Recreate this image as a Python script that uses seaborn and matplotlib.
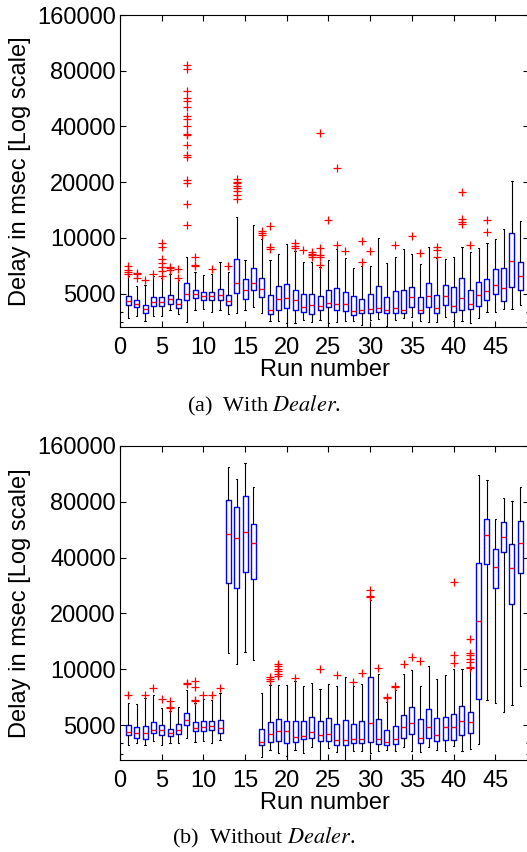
import matplotlib
matplotlib.use("Agg")
import matplotlib.pyplot as plt
import pandas as pd
import seaborn as sns
from matplotlib.ticker import FixedLocator, NullFormatter

# Run numbers on the x axis (same for both panels)
runs = list(range(1, 49))

# (a) With Dealer -- box statistics, delay in msec
a_q1 = [4350, 4240, 3920, 4290, 4290, 4400, 4200, 4605, 4740, 4605, 4605, 4605, 4350, 5020, 4660, 5230,
        4815, 3900, 4070, 4200, 4100, 3985, 3900, 4085, 4240, 4100, 4050, 3840, 3920, 3950, 3970, 3935,
        3935, 3935, 4250, 3935, 4240, 3935, 4330, 4000, 4085, 4120, 4310, 4620, 4980, 4550, 5410, 5230]
a_med = [4550, 4420, 4140, 4510, 4510, 4660, 4370, 5000, 5000, 4880, 4860, 4940, 4585, 5730, 5230, 5700,
         5320, 4085, 4700, 4740, 4600, 4220, 4350, 4310, 4435, 4400, 4400, 4015, 4085, 4140, 4200, 4070,
         4185, 4085, 4775, 4100, 4840, 4200, 4860, 4310, 4740, 4420, 4900, 5150, 5570, 5390, 7520, 6220]
a_q3 = [4840, 4640, 4350, 4815, 4775, 4920, 4660, 5680, 5230, 5080, 5100, 5300, 4920, 7710, 6000, 6900,
        6100, 4920, 5500, 5610, 5230, 4980, 5000, 4880, 5250, 5360, 5100, 4840, 4700, 4980, 5500, 4815,
        5170, 5230, 5450, 4815, 5700, 4920, 5590, 5410, 6070, 5250, 5780, 6000, 6810, 6900, 10590, 7370]
a_whi = [6250, 5520, 5590, 6200, 6070, 6400, 5900, 7840, 6540, 6300, 6400, 7370, 6570, 12900, 7600, 11700,
         9840, 7580, 8170, 9280, 8510, 7400, 7400, 6955, 7600, 8690, 7770, 6870, 7010, 7010, 10040, 7310,
         7840, 8690, 8140, 7220, 8980, 7770, 7710, 7840, 8950, 8410, 8840, 9440, 9840, 11150, 20380, 12350]
a_wlo = [3700, 3770, 3540, 3770, 3770, 4070, 3870, 3520, 4100, 4140, 3970, 4070, 3900, 3950, 4070, 4240,
         3920, 3535, 3540, 3480, 3480, 3580, 3505, 3620, 3450, 3505, 3535, 3540, 3365, 3595, 3650, 3340,
         3580, 3700, 3740, 3540, 3505, 3505, 3740, 3540, 3540, 3450, 3700, 3985, 3970, 4150, 4150, 4330]
a_fliers = {
    1: [7070, 6670, 6510, 6380], 2: [6460, 6380, 6100], 3: [5900], 4: [6400],
    5: [9360, 8980, 7680, 7310, 6955, 6590, 6250], 6: [6955, 6840, 6730], 7: [6780, 6070],
    8: [86000, 82000, 62500, 57000, 54700, 50800, 45800, 44000, 40000, 36500, 35800, 31600,
        27900, 27400, 20500, 19700, 15300, 11800],
    9: [7870, 7160, 7010], 11: [6810], 13: [7050],
    14: [20700, 20150, 19700, 19100, 18600, 18000, 17000, 16300],
    17: [10870, 10660, 10380], 18: [11560, 8980, 8760], 21: [9440, 9090, 8870], 22: [8620],
    23: [8440, 8200, 8035, 7900], 24: [36800, 8800, 8100, 7870, 7160], 25: [12500],
    26: [23900, 9170], 27: [8510], 29: [9560, 7400], 30: [8510], 33: [9170], 35: [10250],
    36: [8270], 38: [8910, 8620, 7930], 41: [17800, 12600, 12240, 11930], 42: [9200],
    44: [12550, 10770],
}

# (b) Without Dealer
b_q1 = [4400, 4270, 4200, 4510, 4400, 4350, 4450, 5020, 4640, 4620, 4680, 4510, 29070, 27320, 33450, 30780,
        3900, 4050, 4085, 4015, 4030, 4185, 4240, 4100, 4085, 3900, 3900, 3985, 3985, 4070, 3935, 3880,
        3935, 4240, 4490, 3985, 4270, 4085, 4153, 4170, 4435, 4510, 6870, 36950, 27300, 42900, 22400, 33000]
b_med = [4605, 4525, 4545, 4720, 4680, 4545, 4700, 5320, 4840, 4860, 4920, 4800, 53450, 50830, 55000, 47770,
         4030, 4470, 4640, 4620, 4330, 4370, 4560, 4420, 4450, 4140, 4140, 4200, 4200, 5125, 4200, 4070,
         4185, 4880, 5125, 4240, 4860, 4400, 4860, 4860, 5275, 5170, 18200, 53200, 35700, 51900, 35300, 48100]
b_q3 = [4980, 4880, 4940, 5210, 4980, 4775, 5080, 5800, 5170, 5275, 5230, 5300, 81800, 75260, 86000, 60500,
        4775, 5210, 5390, 5275, 5230, 5230, 5500, 5230, 5430, 5080, 5300, 5040, 5275, 9130, 5390, 4680,
        4940, 5700, 6240, 5360, 6100, 5450, 5543, 5750, 6300, 5900, 37250, 64300, 44300, 62000, 47500, 63000]
b_whi = [6540, 6460, 7010, 7220, 6145, 5950, 6240, 7770, 6540, 6930, 6810, 7450, 122800, 106200, 129100,
         95800, 7400, 8200, 8200, 8200, 8620, 8140, 8480, 7800, 8340, 8140, 9090, 8140, 8370, 23600, 9400,
         6620, 7770, 9480, 9950, 8100, 10380, 8840, 9360, 10080, 10080, 10050, 112000, 104800, 64600,
         83500, 80800, 95700]
b_wlo = [3900, 3985, 3900, 4100, 3900, 4000, 3985, 4270, 4070, 4120, 3985, 4140, 12190, 10630, 12430, 11210,
         3350, 3670, 3540, 3420, 3670, 3535, 3820, 3180, 3746, 3595, 3240, 3620, 3620, 3520, 3620, 3650,
         3620, 3790, 3620, 3560, 3820, 3650, 3620, 3870, 3620, 3730, 3950, 6810, 6540, 5900, 6400, 8140]
b_fliers = {
    1: [7250], 3: [7250], 4: [7930], 5: [6870], 6: [6730, 6270, 6200], 8: [8440, 8370],
    9: [8690, 8035, 6810, 6760], 10: [7250], 11: [7220], 12: [7970], 18: [9090, 8870, 8650],
    19: [10700, 10380, 10080, 9750, 9480, 9200], 21: [9020], 24: [10080], 26: [9360], 28: [8580],
    29: [9600], 30: [26700, 24800, 24500], 31: [10120], 32: [7100, 7010], 33: [8100, 8000],
    34: [10700], 35: [11600], 36: [11040], 40: [29400, 12000, 10850],
    42: [14600, 12300, 11900, 11400, 11000, 10300, 10200],
}

y_ticks = [5000, 10000, 20000, 40000, 80000, 160000]
x_ticks = [0, 5, 10, 15, 20, 25, 30, 35, 40, 45]

sns.set_theme(style="ticks", rc={"axes.edgecolor": "black", "xtick.color": "black", "ytick.color": "black",
                                 "axes.labelcolor": "black", "text.color": "black", "axes.linewidth": 0.8})
plt.rcParams["font.family"] = ["Liberation Sans", "DejaVu Sans"]
plt.rcParams["mathtext.fontset"] = "stix"

fig = plt.figure(figsize=(5.27, 8.52), dpi=100)
W, H = 527, 852
ax_a = fig.add_axes([120 / W, 1 - 327 / H, 409 / W, 312 / H])
ax_b = fig.add_axes([120 / W, 1 - 760 / H, 409 / W, 314 / H])


def draw_panel(ax, q1, med, q3, wlo, whi, fliers, ylow):
    # box stats -> matplotlib bxp, MATLAB-like colours
    stats = [dict(med=med[i], q1=q1[i], q3=q3[i], whislo=wlo[i], whishi=whi[i], fliers=[])
             for i in range(len(runs))]
    ax.bxp(stats, positions=runs, widths=0.6, capwidths=0.15, showfliers=False, manage_ticks=False,
           boxprops=dict(color="blue", lw=1.0), medianprops=dict(color="red", lw=1.0),
           whiskerprops=dict(color="black", lw=0.8), capprops=dict(color="black", lw=0.8))
    # outliers as red plus signs
    fl = pd.DataFrame([(r, v) for r, vals in fliers.items() for v in vals], columns=["run", "delay"])
    sns.scatterplot(data=fl, x="run", y="delay", marker="+", color="red", s=34, linewidth=0.9,
                    ax=ax, zorder=3)
    ax.set_yscale("log")
    ax.set_ylim(ylow, 160000)
    ax.set_xlim(0, 49.05)
    ax.set_yticks(y_ticks)
    ax.set_yticklabels([str(t) for t in y_ticks])
    ax.yaxis.set_minor_locator(FixedLocator([3500, 4000]))
    ax.yaxis.set_minor_formatter(NullFormatter())
    ax.set_xticks(x_ticks)
    ax.set_xticklabels([str(t) for t in x_ticks])
    ax.tick_params(which="both", direction="in", top=True, right=True, width=0.8)
    ax.tick_params(which="major", length=4, labelsize=17)
    ax.tick_params(which="minor", length=2.5)
    ax.tick_params(axis="x", pad=7)
    ax.tick_params(axis="y", pad=3)
    ax.set_xlabel("Run number", fontsize=17, labelpad=0)
    ax.set_ylabel("Delay in msec [Log scale]", fontsize=17, labelpad=4)


draw_panel(ax_a, a_q1, a_med, a_q3, a_wlo, a_whi, a_fliers, 3300)
draw_panel(ax_b, b_q1, b_med, b_q3, b_wlo, b_whi, b_fliers, 3240)

# captions under each panel
fig.text(0.5, 1 - 406 / H, r"(a)  With $\mathit{Dealer}$.", ha="center", va="center",
         fontsize=16, family=["Liberation Serif"])
fig.text(0.5, 1 - 838 / H, r"(b)  Without $\mathit{Dealer}$.", ha="center", va="center",
         fontsize=16, family=["Liberation Serif"])

fig.savefig("out.png", dpi=100)
